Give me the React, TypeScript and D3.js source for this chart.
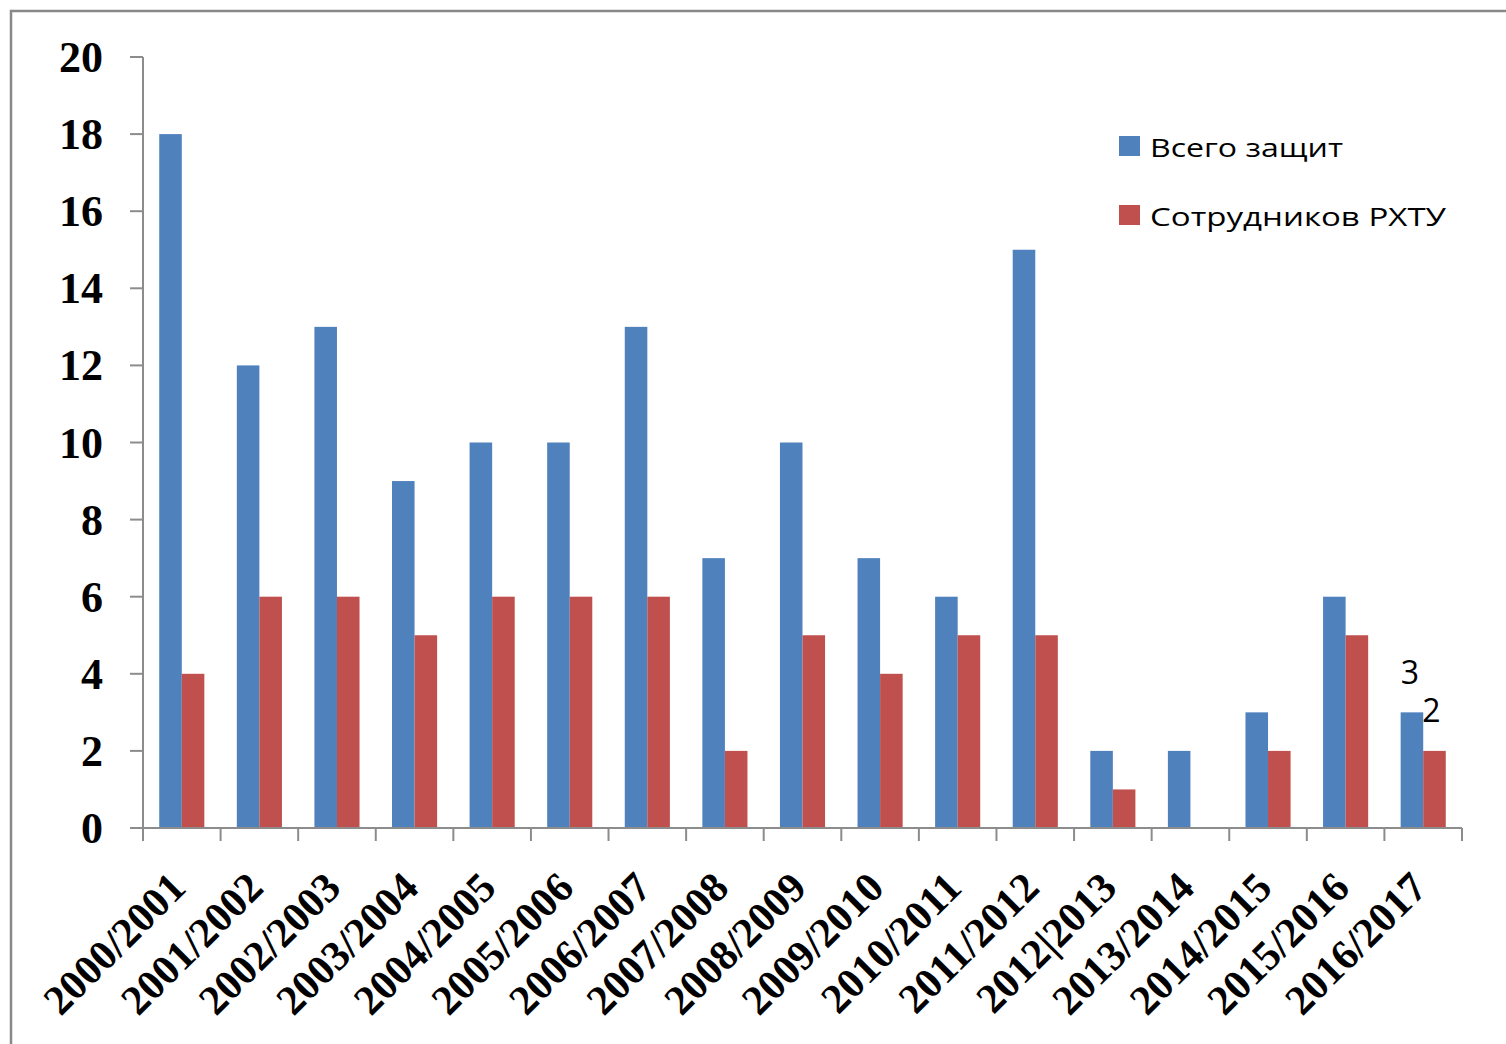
import React from "react";
import * as d3 from "d3";

const categories = ["2000/2001","2001/2002","2002/2003","2003/2004","2004/2005","2005/2006","2006/2007","2007/2008","2008/2009","2009/2010","2010/2011","2011/2012","2012|2013","2013/2014","2014/2015","2015/2016","2016/2017"];
const totalDefenses = [18,12,13,9,10,10,13,7,10,7,6,15,2,2,3,6,3];
const staffDefenses = [4,6,6,5,6,6,6,2,5,4,5,5,1,0,2,5,2];
const seriesNames = ["Всего защит", "Сотрудников РХТУ"];
const seriesColors = ["#4F81BD", "#C0504D"];
const yTicks = [0,2,4,6,8,10,12,14,16,18,20];

export default function App() {
  const W = 1506, H = 1044;
  const left = 143, right = 1462, top = 57, bottom = 828;
  const x = d3.scaleBand<string>().domain(categories).range([left, right]).paddingInner(0).paddingOuter(0);
  const xs = d3.scaleBand<string>().domain(["a","b"]).range([0, x.bandwidth()]).paddingInner(0).paddingOuter(0.72);
  const y = d3.scaleLinear().domain([0, 20]).range([bottom, top]);
  const serif = "'Liberation Serif', 'Times New Roman', serif";
  const sans = "'Open Sans', 'Noto Sans', sans-serif";
  const axisColor = "#8c8c8c";
  const series = [totalDefenses, staffDefenses];
  const keys = ["a","b"];
  const boundaries = categories.map((c) => x(c)!).concat([right]);
  const last = categories.length - 1;
  return (
    <svg width={W} height={H} style={{position:"absolute", left:0, top:0, background:"#fff"}}>
      <rect x={11} y={11} width={W} height={H} fill="#fff" stroke="#888" strokeWidth={2.5} />
      {series.map((vals, si) => vals.map((v, i) => (
        v > 0 ? <rect key={si+"-"+i} x={x(categories[i])! + xs(keys[si])!} y={y(v)} width={xs.bandwidth()} height={y(0) - y(v)} fill={seriesColors[si]} /> : null
      )))}
      <line x1={left} x2={left} y1={top} y2={bottom} stroke={axisColor} strokeWidth={2} />
      <line x1={left} x2={right} y1={bottom} y2={bottom} stroke={axisColor} strokeWidth={2} />
      {yTicks.map((t) => (
        <g key={t}>
          <line x1={left - 13} x2={left} y1={y(t)} y2={y(t)} stroke={axisColor} strokeWidth={2} />
          <text x={103} y={y(t) + 15} textAnchor="end" fontFamily={serif} fontWeight="bold" fontSize={44}>{t}</text>
        </g>
      ))}
      {boundaries.map((b, i) => (
        <line key={i} x1={b} x2={b} y1={bottom} y2={bottom + 13} stroke={axisColor} strokeWidth={2} />
      ))}
      {categories.map((c) => (
        <text key={c} transform={`translate(${x(c)! + x.bandwidth() / 2 + 6},${bottom + 62}) rotate(-45)`} textAnchor="end" fontFamily={serif} fontWeight="bold" fontSize={42}>{c}</text>
      ))}
      <text x={x(categories[last])! + xs("a")! + xs.bandwidth() / 2 - 2} y={y(totalDefenses[last]) - 28} textAnchor="middle" fontFamily={sans} fontSize={32}>{totalDefenses[last]}</text>
      <text x={x(categories[last])! + xs("b")! + xs.bandwidth() / 2 - 3} y={y(staffDefenses[last]) - 29} textAnchor="middle" fontFamily={sans} fontSize={32}>{staffDefenses[last]}</text>
      {seriesNames.map((n, i) => (
        <g key={n}>
          <rect x={1119} y={136 + i * 69} width={21} height={20} fill={seriesColors[i]} />
          <text x={1150} y={157 + i * 69} fontFamily={sans} fontSize={25} textLength={i === 0 ? 193 : 296} lengthAdjust="spacingAndGlyphs">{n}</text>
        </g>
      ))}
    </svg>
  );
}
